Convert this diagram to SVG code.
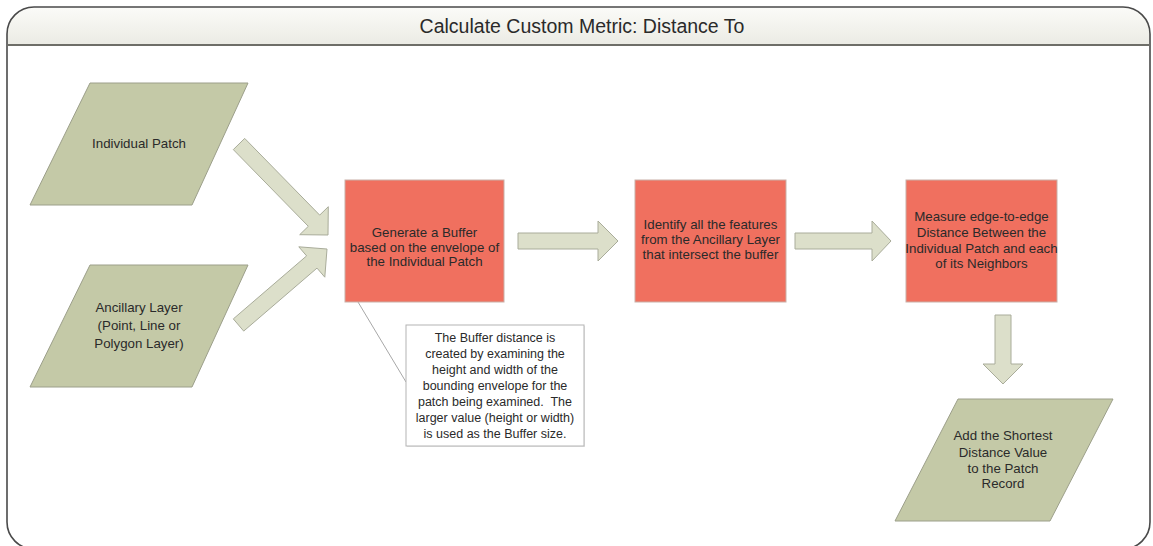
<svg xmlns="http://www.w3.org/2000/svg" width="1153" height="546" viewBox="0 0 1153 546">
<style>
text{font-family:"Liberation Sans",Arial,sans-serif;fill:#2a2a2a;text-anchor:middle}
.t{font-size:13.3px}
.n{font-size:12.5px}
.para{fill:#c4c9a7;stroke:#9c9f8a;stroke-width:1}
.box{fill:#f0705f;stroke:#c9b0a8;stroke-width:1}
.arr{fill:#dcdfca;stroke:#a9ac9a;stroke-width:1}
</style>
<defs>
<linearGradient id="tb" x1="0" y1="0" x2="0" y2="1">
<stop offset="0" stop-color="#fbfbf8"/>
<stop offset="1" stop-color="#ebebe4"/>
</linearGradient>
</defs>
<rect x="0" y="0" width="1153" height="546" fill="#ffffff"/>
<g id="frame">
<path d="M7,45 V34 A27,27 0 0 1 34,7 H1123 A27,27 0 0 1 1150,34 V45 Z" fill="url(#tb)"/>
<path d="M7,34 A27,27 0 0 1 34,7 H1123 A27,27 0 0 1 1150,34 V522 A27,27 0 0 1 1123,549 H34 A27,27 0 0 1 7,522 Z" fill="none" stroke="#4a4a4a" stroke-width="1.6"/>
<line x1="7" y1="45" x2="1150" y2="45" stroke="#6e6e68" stroke-width="2"/>
<text x="582" y="33" style="font-size:19.5px">Calculate Custom Metric: Distance To</text>
</g>
<g id="connectors">
<polygon class="arr" points="244.7,138.4 319.7,215.1 328.3,206.7 328,235 299.7,234.7 308.3,226.3 233.3,149.6"/>
<polygon class="arr" points="233.3,318.9 306.6,255.9 298.8,246.8 327,249 324.8,277.2 317,268.1 243.7,331.1"/>
<polygon class="arr" points="518,233 598,233 598,221 618,241 598,261 598,249 518,249"/>
<polygon class="arr" points="795,233 872,233 872,221 891,241 872,261 872,249 795,249"/>
<polygon class="arr" points="995,315 1011,315 1011,364 1023,364 1003,384 983,364 995,364"/>
<line x1="358" y1="302" x2="406" y2="382" stroke="#a8a8a8" stroke-width="1"/>
</g>
<g id="individual-patch">
<polygon class="para" points="90,83 248,83 192,205 30,205"/>
<text class="t" x="139" y="148">Individual Patch</text>
</g>
<g id="ancillary-layer">
<polygon class="para" points="90,265 248,265 192,387 30,387"/>
<text class="t" x="139" y="312">Ancillary Layer</text>
<text class="t" x="139" y="330">(Point, Line or</text>
<text class="t" x="139" y="348">Polygon Layer)</text>
</g>
<g id="generate-buffer">
<rect class="box" x="345" y="180" width="159" height="122"/>
<text class="t" x="424.5" y="237">Generate a Buffer</text>
<text class="t" x="424.5" y="252">based on the envelope of</text>
<text class="t" x="424.5" y="266">the Individual Patch</text>
</g>
<g id="identify-features">
<rect class="box" x="635" y="180" width="151" height="122"/>
<text class="t" x="710.5" y="229">Identify all the features</text>
<text class="t" x="710.5" y="244">from the Ancillary Layer</text>
<text class="t" x="710.5" y="259">that intersect the buffer</text>
</g>
<g id="measure-distance">
<rect class="box" x="906" y="180" width="151" height="122"/>
<text class="t" x="981.5" y="221">Measure edge-to-edge</text>
<text class="t" x="981.5" y="237">Distance Between the</text>
<text class="t" x="981.5" y="253">Individual Patch and each</text>
<text class="t" x="981.5" y="268">of its Neighbors</text>
</g>
<g id="add-shortest">
<polygon class="para" points="958,399 1113,399 1050,521 895,521"/>
<text class="t" x="1003" y="440">Add the Shortest</text>
<text class="t" x="1003" y="457">Distance Value</text>
<text class="t" x="1003" y="473">to the Patch</text>
<text class="t" x="1003" y="488">Record</text>
</g>
<g id="buffer-note">
<rect x="407" y="326" width="178" height="121" fill="#e6e6e6"/>
<rect x="406" y="325" width="178" height="121" fill="#ffffff" stroke="#b4b4b4" stroke-width="1"/>
<text class="n" x="495" y="341.5">The Buffer distance is</text>
<text class="n" x="495" y="357.6">created by examining the</text>
<text class="n" x="495" y="373.7">height and width of the</text>
<text class="n" x="495" y="389.8">bounding envelope for the</text>
<text class="n" x="495" y="405.9" xml:space="preserve">patch being examined.  The</text>
<text class="n" x="495" y="422">larger value (height or width)</text>
<text class="n" x="495" y="438.1">is used as the Buffer size.</text>
</g>
</svg>
